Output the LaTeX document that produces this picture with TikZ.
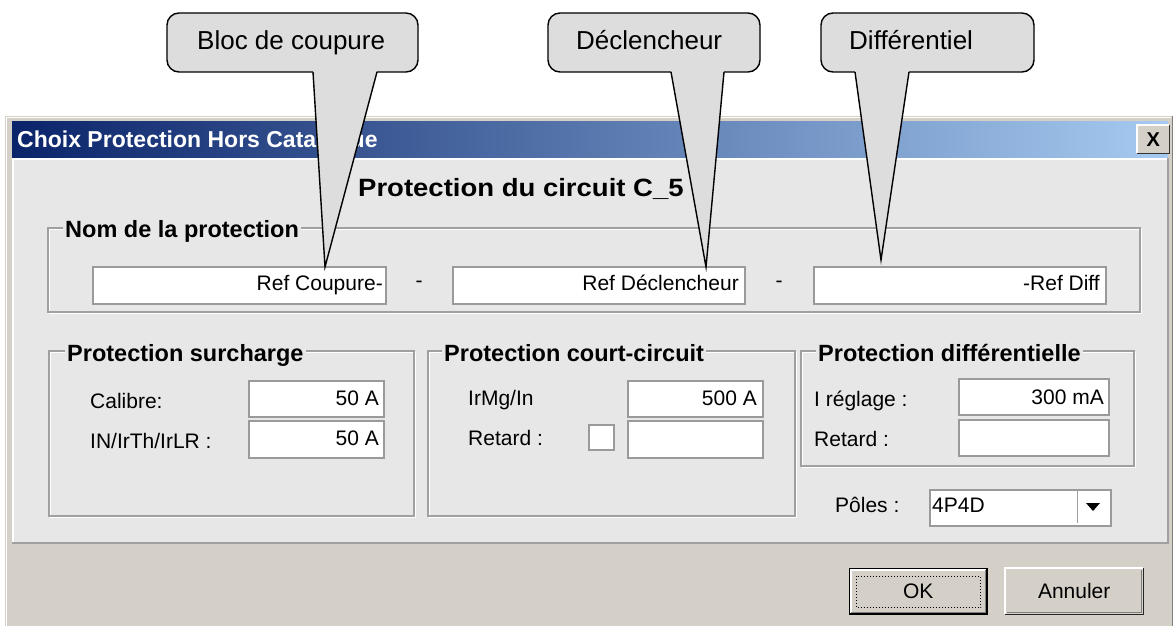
\documentclass[tikz,border=0pt]{standalone}
\usepackage{fontspec}
\setmainfont{Liberation Sans}
\usepackage{graphicx}
\definecolor{bodyc}{HTML}{E7E7E7}
\definecolor{btnc}{HTML}{D4D0C8}
\definecolor{callc}{HTML}{DDDDDD}
\definecolor{linec}{HTML}{A0A0A0}
\definecolor{fieldc}{HTML}{9A9A9A}
\definecolor{tbl}{HTML}{0A246A}
\definecolor{tbr}{HTML}{A6CAF0}
\definecolor{darkc}{HTML}{808080}
\tikzset{
  win/.style={font=\fontsize{21}{25}\selectfont, inner sep=0pt},
  grp/.style={font=\bfseries\fontsize{23.5}{28}\selectfont, inner sep=2pt, fill=bodyc},
  fieldbox/.style={fill=white, draw=fieldc, line width=1.5pt, inner sep=0pt, anchor=north west},
  calltext/.style={font=\fontsize{26}{30}\selectfont, inner sep=0pt},
  callshape/.style={fill=callc, draw=black, line width=1.4pt},
  calltail/.style={draw=black, line width=1.4pt, line join=miter},
  frameline/.style={draw=linec, line width=1.3pt},
  framehi/.style={draw=white, line width=1pt},
  btnbox/.style={fill=btnc, inner sep=0pt, anchor=north west, font=\fontsize{21}{25}\selectfont},
}
\newcommand{\fieldat}[5]{\node[fieldbox, minimum width=#4pt, minimum height=#5pt] (#1) at (#2,#3) {};}
\newcommand{\groupframe}[4]{%
  \draw[framehi] (#1+1.3,#2+1.3) rectangle (#3+1.3,#4+1.3);
  \draw[frameline] (#1,#2) rectangle (#3,#4);}
\begin{document}
\begin{tikzpicture}[x=1pt,y=-1pt]
\useasboundingbox (0,0) rectangle (1173,626);
\fill[white] (0,0) rectangle (1173,626);

% ---------- dialog window ----------
\fill[btnc] (5,116) rectangle (1173,626);
\draw[white, line width=1.5pt] (6.5,626) -- (6.5,117.5) -- (1171,117.5);
\draw[darkc, line width=1pt] (1172.5,116) -- (1172.5,626);
\shade[left color=tbl, right color=tbr] (12,121) rectangle (1168,157);
\node[font=\bfseries\fontsize{23}{27}\selectfont, text=white, inner sep=0pt, anchor=base west] (wtitle) at (17,147) {Choix Protection Hors Catalogue};
\node[btnbox, minimum width=32pt, minimum height=28pt, font=\bfseries\fontsize{20}{20}\selectfont] (closebtn) at (1137,125) {X};
\draw[white, line width=1.2pt] (closebtn.south west) -- (closebtn.north west) -- (closebtn.north east);
\draw[black!80, line width=1.2pt] (closebtn.north east) -- (closebtn.south east) -- (closebtn.south west);

% body
\fill[bodyc] (12,158) rectangle (1168,543);
\draw[white, line width=1.5pt] (12.75,543) -- (12.75,158.75) -- (1168,158.75);
\draw[linec, line width=1.5pt] (1168,158) -- (1168,543) -- (12,543);

\node[font=\bfseries\fontsize{25}{30}\selectfont, inner sep=0pt, anchor=base west] (head) at (358,196) {\scalebox{1.1}[1]{Protection du circuit C\_5}};

% ---------- Nom de la protection ----------
\groupframe{48}{228}{1140}{312}
\node[grp, anchor=base west] (gnom) at (63,237) {Nom de la protection};
\fieldat{f1}{92}{266}{293}{37}
\fieldat{f2}{452}{266}{292}{37}
\fieldat{f3}{813}{266}{292}{37}
\node[win, anchor=base east] (t1) at (383,290) {Ref Coupure-};
\node[win, anchor=base east] (t2) at (739,290) {Ref Déclencheur};
\node[win, anchor=base east] (t3) at (1100,290) {-Ref Diff};
\node[win] (sep1) at (419,284) {-};
\node[win] (sep2) at (779,284) {-};

% ---------- Protection surcharge ----------
\groupframe{49}{351}{414}{516}
\node[grp, anchor=base west] (gsur) at (65,361) {Protection surcharge};
\node[win, anchor=base west] (lcal) at (90,408) {Calibre:};
\node[win, anchor=base west] (lin) at (90,448) {IN/IrTh/IrLR :};
\fieldat{cal}{248}{380}{135}{36}
\fieldat{inr}{248}{420}{135}{37}
\node[win, anchor=base east] (vcal) at (379,405) {50 A};
\node[win, anchor=base east] (vin) at (379,445) {50 A};

% ---------- Protection court-circuit ----------
\groupframe{428}{351}{795}{516}
\node[grp, anchor=base west] (gcc) at (442,361) {Protection court-circuit};
\node[win, anchor=base west] (lirmg) at (468,405) {IrMg/In};
\node[win, anchor=base west] (lret1) at (468,445) {Retard :};
\fieldat{chk}{588}{424}{25}{25}
\fieldat{irmg}{627}{380}{135}{36}
\fieldat{ret1}{627}{420}{135}{37}
\node[win, anchor=base east] (virmg) at (757,405) {500 A};

% ---------- Protection differentielle ----------
\groupframe{801}{351}{1134}{466}
\node[grp, anchor=base west] (gdiff) at (816,361) {Protection différentielle};
\node[win, anchor=base west] (lireg) at (814,406) {I réglage :};
\node[win, anchor=base west] (lret2) at (814,446) {Retard :};
\fieldat{ireg}{958}{378}{150}{36}
\fieldat{ret2}{958}{419}{150}{36}
\node[win, anchor=base east] (vireg) at (1104,404) {300 mA};

% ---------- Poles ----------
\node[win, anchor=base west] (lpol) at (835,512) {Pôles :};
\fieldat{combo}{929}{489}{181}{36}
\node[win, anchor=base west] (vpol) at (932,512) {4P4D};
\node[fill=white, inner sep=0pt, minimum width=30pt, minimum height=32pt, anchor=north west] (dropbtn) at (1077.5,491) {};
\draw[linec, line width=1pt] (dropbtn.north west) -- (dropbtn.south west);
\fill[black] (1086,503) -- (1100,503) -- (1093,511) -- cycle;

% ---------- buttons ----------
\node[btnbox, minimum width=137pt, minimum height=45pt, draw=black, line width=1.5pt] (okbtn) at (849,568) {OK};
\draw[white, line width=1.2pt] ([shift={(2pt,2pt)}]okbtn.south west) -- ([shift={(2pt,-2pt)}]okbtn.north west) -- ([shift={(-2pt,-2pt)}]okbtn.north east);
\draw[darkc, line width=1.2pt] ([shift={(-2pt,-2pt)}]okbtn.north east) -- ([shift={(-2pt,2pt)}]okbtn.south east) -- ([shift={(2pt,2pt)}]okbtn.south west);
\draw[black, dotted, line width=1pt] ([shift={(7pt,-8pt)}]okbtn.north west) rectangle ([shift={(-7pt,7pt)}]okbtn.south east);
\node[btnbox, minimum width=138pt, minimum height=46pt] (annbtn) at (1005,568) {Annuler};
\draw[white, line width=1.5pt] (annbtn.south west) -- (annbtn.north west) -- (annbtn.north east);
\draw[black!85, line width=1.5pt] (annbtn.north east) -- (annbtn.south east) -- (annbtn.south west);
\draw[darkc, line width=1.2pt] ([shift={(-2pt,-2pt)}]annbtn.north east) -- ([shift={(-2pt,2pt)}]annbtn.south east) -- ([shift={(2pt,2pt)}]annbtn.south west);

% ---------- callouts ----------
\coordinate (tip1) at (325,267);
\coordinate (tip2) at (706,267);
\coordinate (tip3) at (881,260);

\draw[callshape, rounded corners=12pt] (167,13) rectangle (418,72);
\fill[callc] (313,70) -- (377,70) -- (tip1) -- cycle;
\draw[calltail] (313,72) -- (tip1) -- (377,72);
\node[calltext, anchor=base west] (c1) at (197,50) {Bloc de coupure};

\draw[callshape, rounded corners=12pt] (548,13) rectangle (760,72);
\fill[callc] (671,70) -- (724,70) -- (tip2) -- cycle;
\draw[calltail] (671,72) -- (tip2) -- (724,72);
\node[calltext, anchor=base west] (c2) at (576,50) {Déclencheur};

\draw[callshape, rounded corners=12pt] (821,13) rectangle (1034,72);
\fill[callc] (855,70) -- (909,70) -- (tip3) -- cycle;
\draw[calltail] (855,72) -- (tip3) -- (909,72);
\node[calltext, anchor=base west] (c3) at (849,50) {Différentiel};
\end{tikzpicture}
\end{document}
